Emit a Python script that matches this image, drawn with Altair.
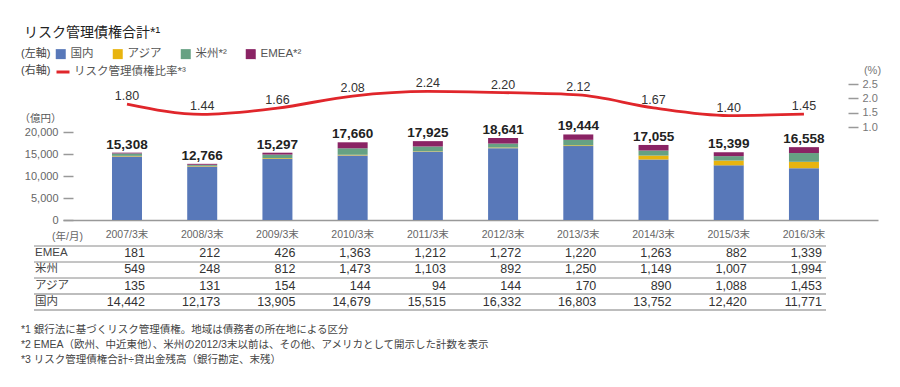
import altair as alt
import pandas as pd

# ---------------- data ----------------
years = ["2007/3末", "2008/3末", "2009/3末", "2010/3末", "2011/3末",
         "2012/3末", "2013/3末", "2014/3末", "2015/3末", "2016/3末"]
domestic = [14442, 12173, 13905, 14679, 15515, 16332, 16803, 13752, 12420, 11771]
asia = [135, 131, 154, 144, 94, 144, 170, 890, 1088, 1453]
americas = [549, 248, 812, 1473, 1103, 892, 1250, 1149, 1007, 1994]
emea = [181, 212, 426, 1363, 1212, 1272, 1220, 1263, 882, 1339]
totals = [15308, 12766, 15297, 17660, 17925, 18641, 19444, 17055, 15399, 16558]
ratio = [1.80, 1.44, 1.66, 2.08, 2.24, 2.20, 2.12, 1.67, 1.40, 1.45]

regions = ["国内", "アジア", "米州", "EMEA"]
region_colors = ["#5878b9", "#e8b40f", "#66a183", "#8a2364"]
table_rows = ["EMEA", "米州", "アジア", "国内"]
ratio_series = "リスク管理債権比率*³"
left_ticks = [0, 5000, 10000, 15000, 20000]
right_ticks = [1.0, 1.5, 2.0, 2.5]
notes = [
    "*1 銀行法に基づくリスク管理債権。地域は債務者の所在地による区分",
    "*2 EMEA（欧州、中近東他）、米州の2012/3末以前は、その他、アメリカとして開示した計数を表示",
    "*3 リスク管理債権合計÷貸出金残高（銀行勘定、末残）",
]

series = {"国内": domestic, "アジア": asia, "米州": americas, "EMEA": emea}

bars_df = pd.DataFrame(
    [{"year": y, "region": r, "value": series[r][i], "ord": regions.index(r)}
     for r in regions for i, y in enumerate(years)]
)
totals_df = pd.DataFrame({"year": years, "value": totals,
                          "label": [f"{v:,}" for v in totals]})
ratio_df = pd.DataFrame({"year": years, "ratio": ratio,
                         "label": [f"{v:.2f}" for v in ratio],
                         "series": ratio_series})
table_df = pd.DataFrame(
    [{"year": y, "row": r, "label": f"{series[r][i]:,}"}
     for r in table_rows for i, y in enumerate(years)]
)
rowlab_df = pd.DataFrame({"row": table_rows})
notes_df = pd.DataFrame({"note": notes})

FONT = "Liberation Sans, Noto Sans CJK JP, sans-serif"

x_axis = alt.Axis(
    title="(年/月)", titleX=4, titleY=16, titleAngle=0, titleAlign="center",
    titleBaseline="middle", titleFontSize=10.5, titleFontWeight="normal",
    titleColor="#666", labelAngle=0, tickSize=0, labelPadding=9,
    labelFontSize=10.5, labelColor="#666", domainColor="#999", domainWidth=1.5,
)
x_scale = alt.Scale(domain=years, paddingInner=0, paddingOuter=0.4176, align=0.42)


def x_enc():
    return alt.X("year:N", sort=years, scale=x_scale, axis=x_axis)


bar_scale = alt.Scale(domain=[0, 20000])
bar_axis = alt.Axis(
    orient="left", values=left_ticks, format=",.0f", tickSize=10, offset=-10,
    labelPadding=5, labelFontSize=11, labelColor="#666", tickColor="#999",
    tickWidth=1.5, domain=False, grid=False, title="（億円）", titleAngle=0,
    titleX=-33, titleY=-14, titleAlign="center", titleBaseline="middle",
    titleFontSize=10.5, titleFontWeight="normal", titleColor="#555",
)

bars = alt.Chart(bars_df).mark_bar(size=30).encode(
    x=x_enc(),
    y=alt.Y("value:Q", stack="zero", scale=bar_scale, axis=bar_axis),
    color=alt.Color(
        "region:N",
        scale=alt.Scale(domain=regions, range=region_colors),
        legend=alt.Legend(
            orient="none", legendX=-42, legendY=-84, direction="horizontal",
            title="(左軸)", titleOrient="left", titleFontSize=11,
            titleFontWeight="normal", titleColor="#444", titlePadding=4,
            symbolType="square", symbolSize=100, symbolStrokeWidth=0,
            labelFontSize=11.5, labelColor="#555", labelOffset=4, columnPadding=18,
            labelExpr="datum.label == '米州' || datum.label == 'EMEA' ? datum.label + '*²' : datum.label",
        ),
    ),
    order=alt.Order("ord:Q"),
)

total_text = alt.Chart(totals_df).mark_text(
    dy=-4, baseline="alphabetic", fontSize=13.5, fontWeight="bold", color="#222"
).encode(
    x=x_enc(),
    y=alt.Y("value:Q", scale=bar_scale, axis=bar_axis),
    text="label:N",
)

bar_layer = alt.layer(bars, total_text)

ratio_scale = alt.Scale(domain=[1.0, 2.5], range=[-5, -48], zero=False)
ratio_axis = alt.Axis(
    orient="right", values=right_ticks, format=".1f", tickSize=10, offset=-30,
    labelPadding=4, labelFontSize=11, labelColor="#777", tickColor="#999",
    tickWidth=1.5, domain=False, grid=False, title="(%)", titleAngle=0,
    titleX=24, titleY=-62, titleAlign="center", titleBaseline="middle",
    titleFontSize=11, titleFontWeight="normal", titleColor="#777",
)

line = alt.Chart(ratio_df).mark_line(strokeWidth=2.8, interpolate="monotone").encode(
    x=x_enc(),
    y=alt.Y("ratio:Q", scale=ratio_scale, axis=ratio_axis),
    stroke=alt.Stroke(
        "series:N",
        scale=alt.Scale(domain=[ratio_series], range=["#e0262b"]),
        legend=alt.Legend(
            orient="none", legendX=-42, legendY=-68, direction="horizontal",
            title="(右軸)", titleOrient="left", titleFontSize=11,
            titleFontWeight="normal", titleColor="#444", titlePadding=4,
            symbolType="stroke", symbolSize=169, symbolStrokeWidth=3,
            labelFontSize=11.5, labelColor="#555", labelOffset=3,
        ),
    ),
)
line_text = alt.Chart(ratio_df).mark_text(
    dy=-4, baseline="alphabetic", fontSize=12.5, color="#333"
).encode(
    x=x_enc(),
    y=alt.Y("ratio:Q", scale=ratio_scale, axis=ratio_axis),
    text="label:N",
)
line_layer = alt.layer(line, line_text)

row_scale = alt.Scale(type="point", domain=table_rows, range=[121, 170], padding=0)

table_vals = alt.Chart(table_df).mark_text(
    align="right", baseline="middle", dx=18, fontSize=12.5, color="#333"
).encode(
    x=x_enc(),
    y=alt.Y("row:N", scale=row_scale, axis=None),
    text="label:N",
)
table_labels = alt.Chart(rowlab_df).mark_text(
    align="left", baseline="middle", fontSize=11.5, color="#444"
).encode(
    x=alt.value(-28),
    y=alt.Y("row:N", scale=row_scale, axis=None),
    text="row:N",
)
table_layer = alt.layer(table_vals, table_labels)


def hrule(ypix, color, width):
    return alt.Chart(pd.DataFrame({"k": [0]})).mark_rule(
        color=color, strokeWidth=width
    ).encode(x=alt.value(-29), x2=alt.value(763), y=alt.value(ypix))


rules = alt.layer(
    hrule(114, "#8a8a8a", 1),
    hrule(130, "#8a8a8a", 1),
    hrule(146, "#8a8a8a", 1),
    hrule(162, "#bdbdbd", 2),
    hrule(178, "#bdbdbd", 2),
)

notes_layer = alt.Chart(notes_df).mark_text(
    align="left", baseline="middle", fontSize=10.5, color="#444"
).encode(
    x=alt.value(-42),
    y=alt.Y("note:N", scale=alt.Scale(type="point", domain=notes, range=[198, 228], padding=0), axis=None),
    text="note:N",
)

chart = alt.layer(
    bar_layer, line_layer, table_layer, notes_layer, rules
).resolve_scale(
    y="independent", color="independent", stroke="independent"
).properties(
    width=815,
    height=88,
    padding={"left": 55, "top": 124, "right": 14, "bottom": 159},
    autosize=alt.AutoSizeParams(type="none"),
    title=alt.TitleParams(
        "リスク管理債権合計*¹", anchor="start", dx=5, dy=-2, offset=6, fontSize=14,
        fontWeight="normal", color="#222",
    ),
).configure(
    font=FONT,
).configure_view(
    stroke=None
)

chart.save("out.html", embed_options={"renderer": "svg", "actions": False})
